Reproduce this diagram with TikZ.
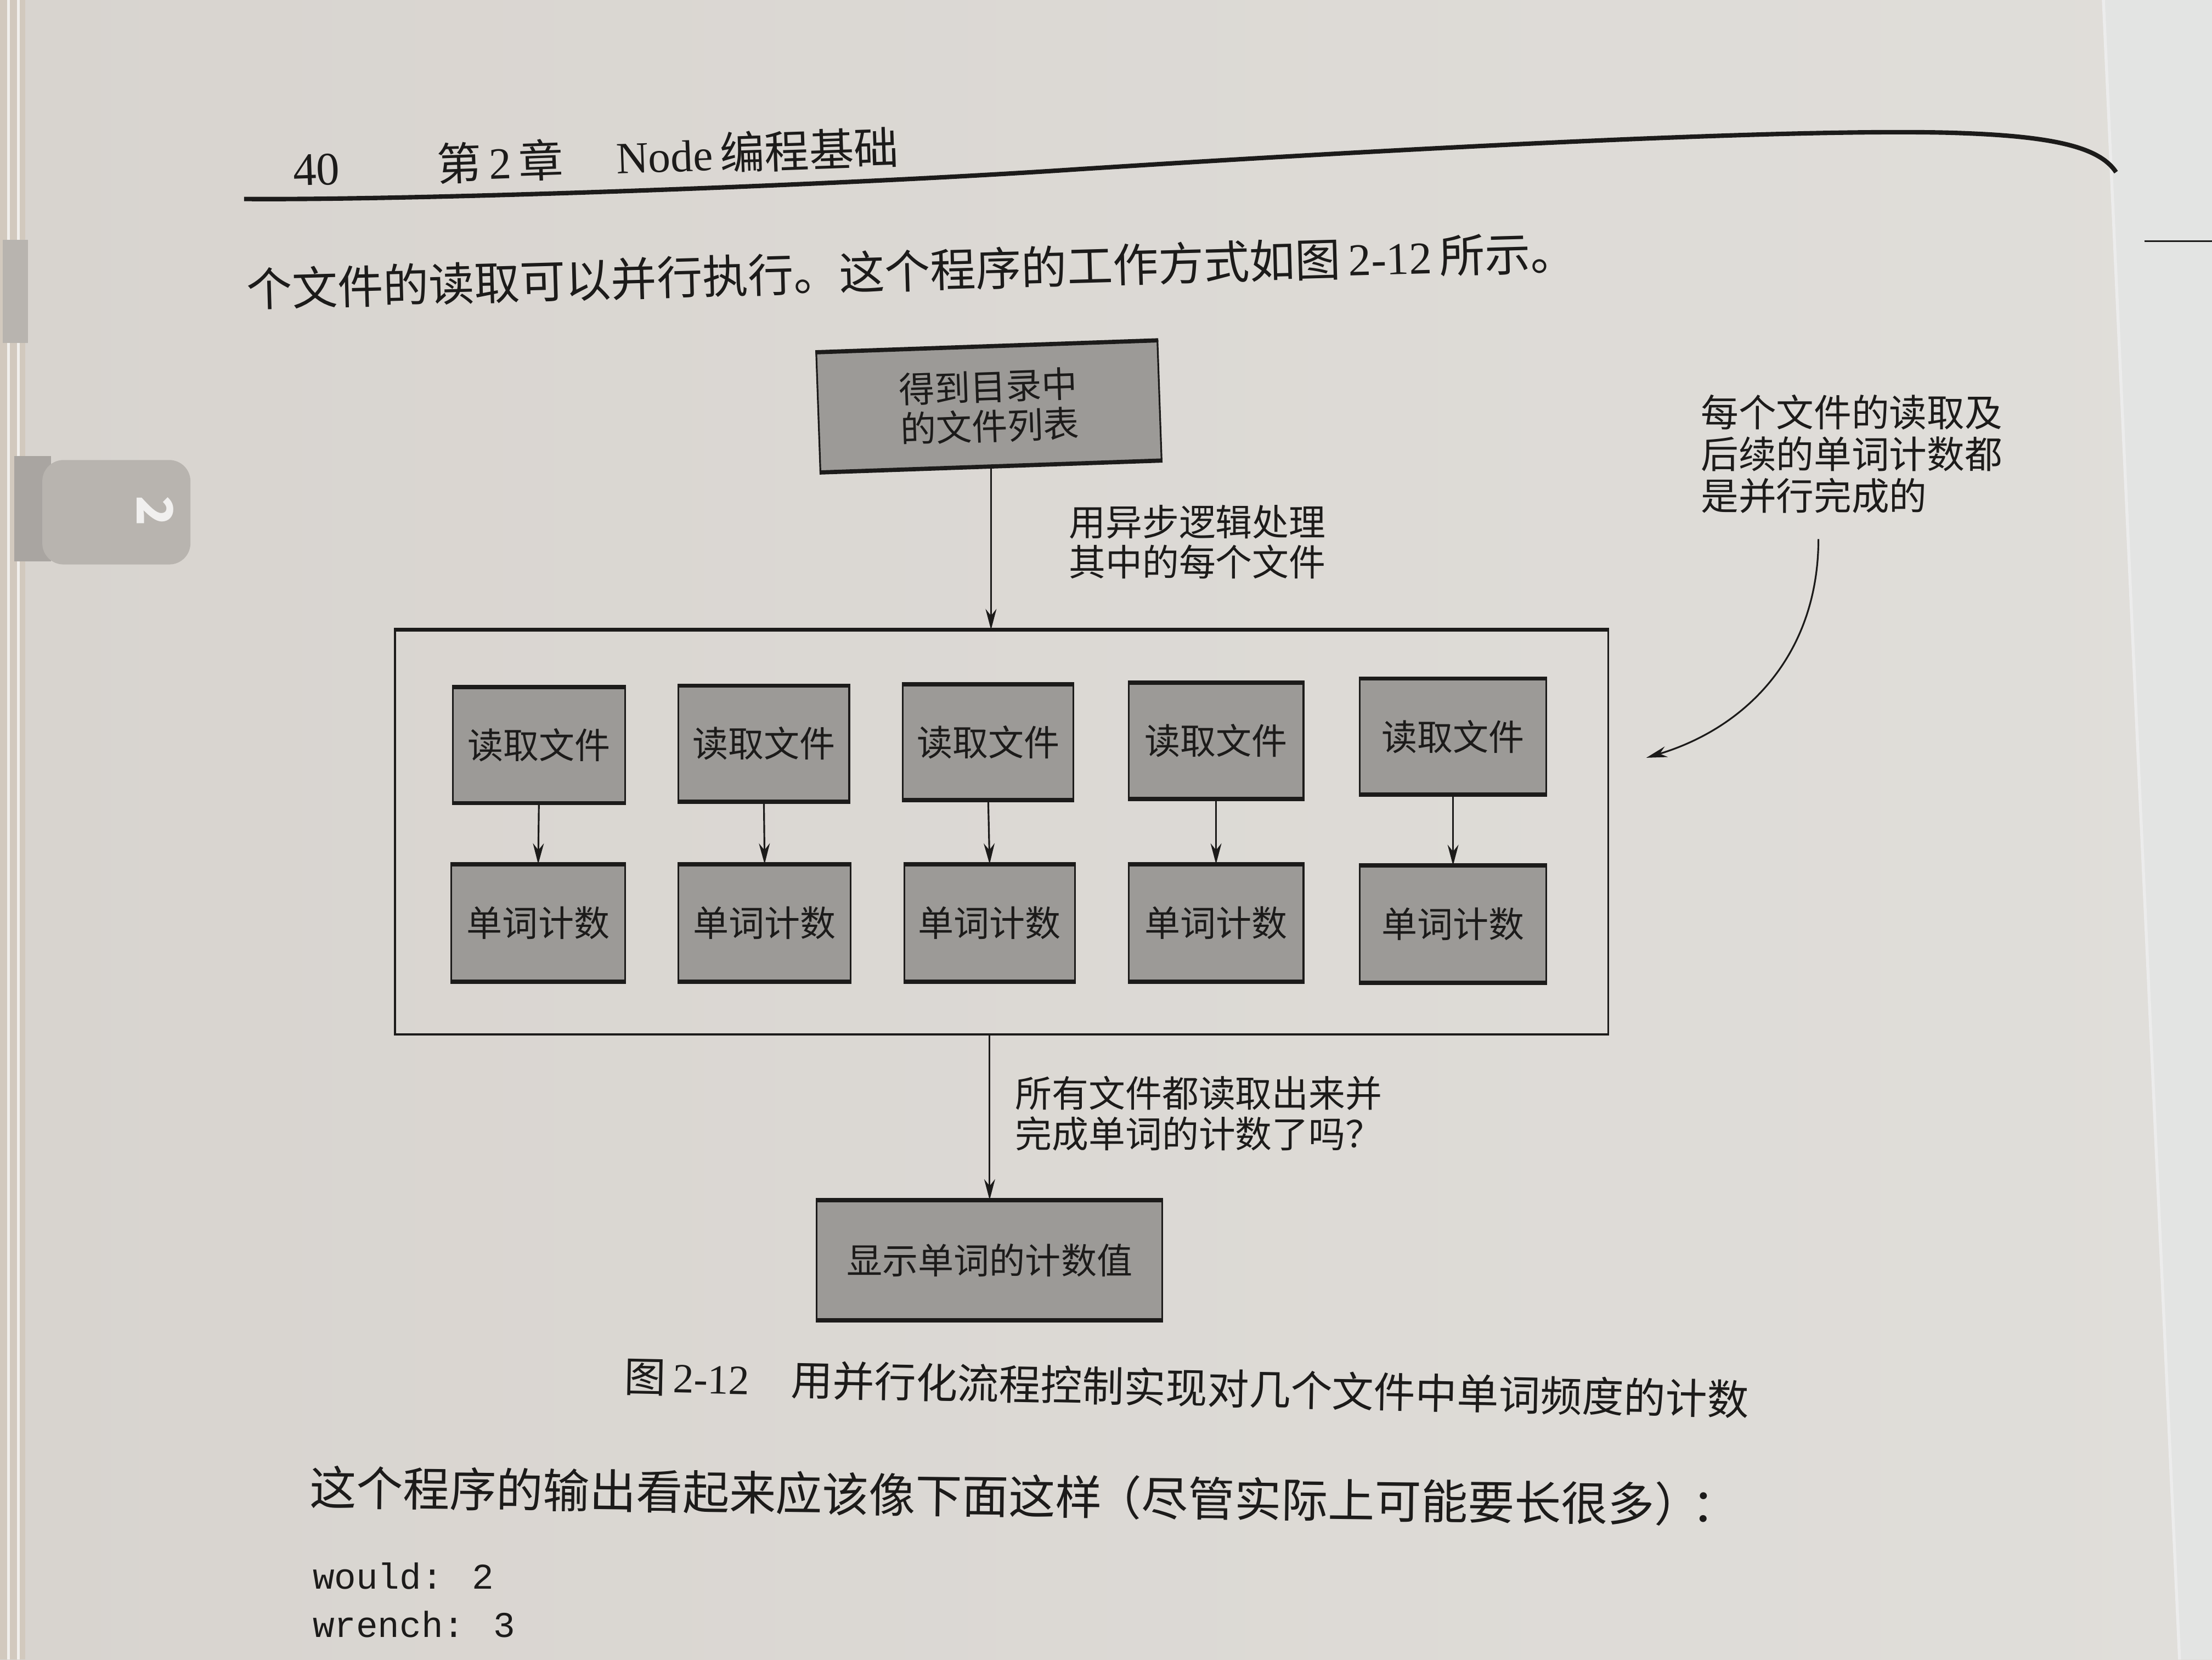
\documentclass[tikz,border=0pt]{standalone}
\usepackage{fontspec}
\setmainfont{Noto Sans CJK SC}
\newfontfamily\serifnum{Liberation Serif}
\newfontfamily\codefont{Liberation Mono}
\usetikzlibrary{arrows.meta}

\definecolor{paperL}{HTML}{D8D4CF}
\definecolor{paperR}{HTML}{E0DEDA}
\definecolor{nextpage}{HTML}{E3E4E3}
\definecolor{edgec}{HTML}{D2C9BE}
\definecolor{tabc}{HTML}{B8B4AF}
\definecolor{inkc}{HTML}{1C1B1A}
\definecolor{boxfill}{HTML}{9C9A97}

\begin{document}
\begin{tikzpicture}[x=0.1mm,y=-0.1mm,
  box/.style={draw=inkc, line width=0.35pt, fill=boxfill, inner sep=0pt,
    align=center, text=inkc, font=\fontsize{7.2pt}{8pt}\selectfont,
    append after command={
      (\tikzlastnode.north west) edge[draw=inkc, line width=0.85pt] (\tikzlastnode.north east)
      (\tikzlastnode.south west) edge[draw=inkc, line width=0.85pt] (\tikzlastnode.south east)}},
  readbox/.style={box, minimum height=8.1mm},
  countbox/.style={box, minimum height=8.2mm},
  flow/.style={draw=inkc, line width=0.35pt, -{Stealth[length=4.2pt,width=2.2pt]}},
  lbl/.style={inner sep=0pt, align=left, anchor=north west, text=inkc,
    font=\fontsize{7.4pt}{8.1pt}\selectfont},
  body/.style={inner sep=0pt, anchor=west, text=inkc},
]
% page background
\useasboundingbox (0,0) rectangle (1568,1176);
\shade[left color=paperL, right color=paperR] (0,0) rectangle (1568,1176);
% next page on the right
\fill[nextpage] (1491,0) -- (1568,0) -- (1568,1176) -- (1545,1176) -- cycle;
\draw[white!85!gray, line width=0.6pt] (1491,0) -- (1545,1176);
\draw[inkc, line width=0.3pt] (1520,171) -- (1568,171);
% page stack and thumb tabs on the left
\fill[edgec] (0,0) rectangle (18,1176);
\draw[white!70!edgec, line width=0.5pt] (6,0) -- (6,1176) (13,0) -- (13,1176);
\fill[tabc] (2,170) rectangle (20,243);
\fill[tabc!92!black] (10,323) rectangle (36,398);
\fill[tabc, rounded corners=1.5mm] (30,326) rectangle (135,400);
\node[text=white!80!tabc, font=\fontsize{10pt}{10pt}\selectfont\bfseries, rotate=-90] (tabnum) at (110,362) {2};

% running head
\node[body, rotate=2, font=\serifnum\fontsize{9.4pt}{10pt}\selectfont] (pg) at (207,121) {40};
\node[body, rotate=2, font=\fontsize{9pt}{10pt}\selectfont] (chap) at (309,116) {第\,{\serifnum 2}\,章};
\node[body, rotate=2, font=\fontsize{9pt}{10pt}\selectfont] (ctitle) at (436,111) {{\serifnum Node}\,编程基础};
\draw[inkc, line width=0.9pt] (173,141) .. controls (300,142) and (600,131) .. (763,120)
  .. controls (950,108) and (1250,91) .. (1380,94) .. controls (1455,96) and (1488,104) .. (1500,122);

% text above the figure
\node[body, rotate=1.6, font=\fontsize{9.2pt}{10pt}\selectfont] (intro) at (174,205)
  {个文件的读取可以并行执行。这个程序的工作方式如图\,{\serifnum 2-12}\,所示。};

% flow chart
\node[box, rotate=2, minimum width=24.2mm, minimum height=8.4mm] (list) at (701,288) {得到目录中\\的文件列表};

\node[draw=inkc, line width=0.4pt, minimum width=86mm, minimum height=28.6mm, inner sep=0pt,
  append after command={(\tikzlastnode.north west) edge[draw=inkc, line width=0.8pt] (\tikzlastnode.north east)}]
  (group) at (710,590) {};

\node[readbox, minimum width=12.2mm] (r1) at (382,528) {读取文件};
\node[readbox, minimum width=12.1mm] (r2) at (541.5,527) {读取文件};
\node[readbox, minimum width=12.1mm] (r3) at (700.5,526) {读取文件};
\node[readbox, minimum width=12.4mm] (r4) at (862,525) {读取文件};
\node[readbox, minimum width=13.2mm] (r5) at (1030,522) {读取文件};

\node[countbox, minimum width=12.3mm] (c1) at (381.5,654) {单词计数};
\node[countbox, minimum width=12.2mm] (c2) at (542,654) {单词计数};
\node[countbox, minimum width=12.1mm] (c3) at (701.5,654) {单词计数};
\node[countbox, minimum width=12.4mm] (c4) at (862,654) {单词计数};
\node[countbox, minimum width=13.2mm] (c5) at (1030,655) {单词计数};

\node[box, minimum width=24.5mm, minimum height=8.4mm] (show) at (701.5,893) {显示单词的计数值};

\draw[flow] (list.south) -- (list.south |- group.north);
\foreach \i in {1,...,5} { \draw[flow] (r\i.south) -- (c\i.north); }
\draw[flow] (group.south -| show.north) -- (show.north);

\node[lbl] (async) at (757,357) {用异步逻辑处理\\其中的每个文件};
\node[lbl] (done) at (719,762) {所有文件都读取出来并\\完成单词的计数了吗？};
\node[lbl, font=\fontsize{7.6pt}{8.4pt}\selectfont] (note) at (1205,279)
  {每个文件的读取及\\后续的单词计数都\\是并行完成的};

\coordinate (bendstart) at (1289,382);
\coordinate (bendend) at (1167,537);
\draw[flow] (bendstart) .. controls (1289,462) and (1240,515) .. (bendend);

% caption
\node[body, rotate=-1.2, font=\fontsize{8.4pt}{9pt}\selectfont] (cap) at (442,975)
  {图\,{\serifnum 2-12}\quad 用并行化流程控制实现对几个文件中单词频度的计数};

% text below the figure
\node[body, rotate=-0.7, font=\fontsize{9.4pt}{10pt}\selectfont] (outro) at (219,1054)
  {这个程序的输出看起来应该像下面这样\kern-0.15em（尽管实际上可能要长很多）\kern-0.2em：};
\node[body, font=\codefont\fontsize{7.3pt}{8pt}\selectfont] (code1) at (221,1117) {would: 2};
\node[body, font=\codefont\fontsize{7.3pt}{8pt}\selectfont] (code2) at (221,1151) {wrench: 3};
\end{tikzpicture}
\end{document}
